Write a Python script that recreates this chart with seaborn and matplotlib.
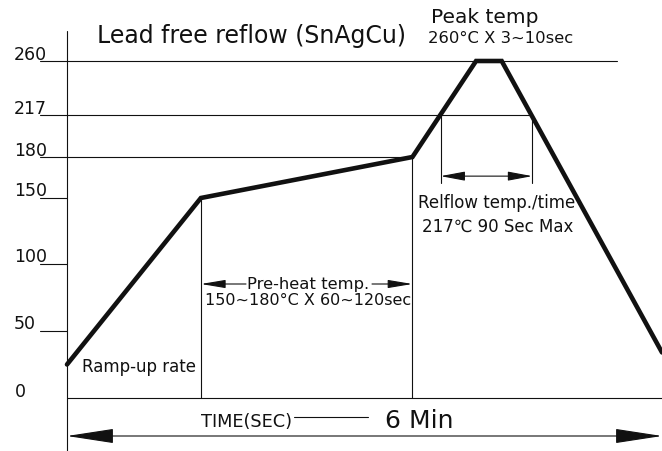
import numpy as np
import matplotlib
matplotlib.use("Agg")
import matplotlib.pyplot as plt
import seaborn as sns

# ========================
# Profile data (time in sec, temperature in C)
# ========================
profile_time = [0, 81, 209, 247.5, 263, 360]
profile_temp = [25, 150, 180, 260, 260, 34]

tick_temps = [260, 217, 180, 150, 100, 50]
tick_labels = ["260", "217", "180", "150", "100", "50"]
guide_ends = [333, 281.5, 209, 0, 0, 0]   # where each reference line stops (sec)

preheat_span = [81, 209]        # sec
reflow_span = [226, 281.5]      # sec, where the curve crosses 217
total_time = 360                # 6 min

# ========================
# Schematic (non-linear) temperature axis of the drawing
# ========================
SCALE_T = [-60, 0, 50, 100, 150, 180, 217, 260, 340]
SCALE_H = [-80.4, 0, 67, 134, 200, 241, 283, 337, 437.8]


def fwd(t):
    return np.interp(t, SCALE_T, SCALE_H)


def inv(h):
    return np.interp(h, SCALE_H, SCALE_T)


W, H = 662, 452
K = 595 / 360          # pixels per second
INK = "#111111"

sns.set_style("white")
plt.rcParams["font.family"] = ["DejaVu Sans"]

fig = plt.figure(figsize=(W / 100, H / 100), dpi=100)
ax = fig.add_axes([0, 0, 1, 1])

sns.lineplot(x=profile_time, y=profile_temp, estimator=None, sort=False,
             color=INK, lw=3.3, ax=ax)
ax.lines[-1].set_solid_joinstyle("miter")

ax.set_yscale("function", functions=(fwd, inv))
ax.set_xlim(-67 / K, total_time)
ax.set_ylim(inv(-53), inv(399))
ax.axis("off")

thin = dict(color=INK, lw=0.8)
stub_x = -27 / K

# reference lines with their tick labels
for temp, end in zip(tick_temps, guide_ends):
    ax.plot([stub_x, end], [temp, temp], **thin)

# axes
ax.plot([0, 0], [inv(-60), inv(367)], **thin)
ax.plot([0, total_time], [0, 0], **thin)

# vertical drops for the pre-heat zone
for t, temp in zip(preheat_span, [150, 180]):
    ax.plot([t, t], [0, temp], **thin)

# reflow window markers
for t in reflow_span:
    ax.plot([t, t], [217, 161], **thin)
ax.annotate("", xy=(reflow_span[0], 166), xytext=(reflow_span[1], 166),
            arrowprops=dict(arrowstyle="<|-|>,head_length=15,head_width=2.8",
                            mutation_scale=1, color=INK, lw=0.8,
                            shrinkA=0, shrinkB=0))

# pre-heat arrows (split around the text)
pre_y = inv(399 - 285)
ax.annotate("", xy=(preheat_span[0], pre_y), xytext=((246 - 67) / K, pre_y),
            arrowprops=dict(arrowstyle="-|>,head_length=15,head_width=2.5",
                            mutation_scale=1, color=INK, lw=0.8,
                            shrinkA=0, shrinkB=0))
ax.annotate("", xy=(preheat_span[1], pre_y), xytext=((372 - 67) / K, pre_y),
            arrowprops=dict(arrowstyle="-|>,head_length=15,head_width=2.5",
                            mutation_scale=1, color=INK, lw=0.8,
                            shrinkA=0, shrinkB=0))

# total time arrow
bot_y = inv(399 - 437)
ax.annotate("", xy=(0, bot_y), xytext=(total_time, bot_y),
            arrowprops=dict(arrowstyle="<|-|>,head_length=30,head_width=4.6",
                            mutation_scale=1, color=INK, lw=0.8,
                            shrinkA=0, shrinkB=0))
ax.plot([(294 - 67) / K, (368 - 67) / K], [inv(399 - 418)] * 2, **thin)


def px_text(x, y, s, size):
    fig.text(x / W, 1 - y / H, s, fontsize=size, color=INK,
             ha="left", va="baseline")


# tick labels
for temp, lab in zip(tick_temps, tick_labels):
    y_px = 399 - fwd(temp) - 2.5
    px_text(14, y_px, lab, 12.5)
px_text(15, 397, "0", 12.5)

px_text(97, 43, "Lead free reflow (SnAgCu)", 17)
px_text(431, 23, "Peak temp", 14.5)
px_text(428, 43, "260°C X 3~10sec", 11.8)
px_text(418, 208, "Relflow temp./time", 12)
px_text(422, 232, "217℃ 90 Sec Max", 12)
px_text(247, 289, "Pre-heat temp.", 11.8)
px_text(205, 305, "150~180°C X 60~120sec", 11.5)
px_text(82, 372, "Ramp-up rate", 12)
px_text(201, 427, "TIME(SEC)", 12.8)
px_text(385, 428, "6 Min", 18)

fig.savefig("out.png", dpi=100)
plt.close(fig)
